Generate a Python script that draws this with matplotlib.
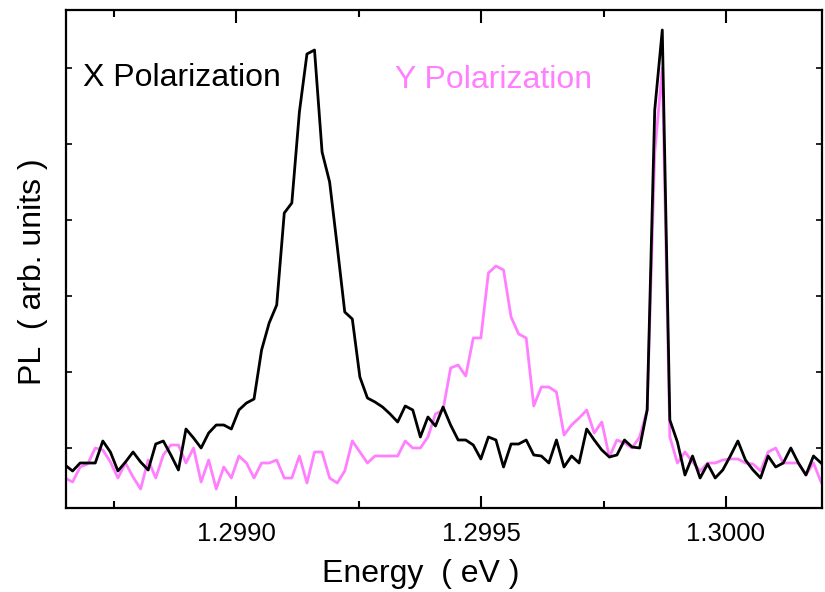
import numpy as np
import matplotlib
matplotlib.use("Agg")
import matplotlib.pyplot as plt
from matplotlib.ticker import MultipleLocator, NullFormatter

plt.rcParams['font.family'] = ['Liberation Sans', 'DejaVu Sans']

# energy sampling of the spectrometer (eV)
e_start = 1.298651
e_step = 0.00001543

# PL intensity (arb. units), X polarization
pl_x = [43, 37, 45, 45, 45, 67, 56, 37, 46, 56,
        46, 38, 64, 67, 53, 38, 79, 70, 60, 75,
        83, 83, 79, 98, 105, 109, 158, 185, 203, 295,
        305, 396, 454, 458, 356, 326, 262, 196, 189, 131,
        110, 106, 101, 94, 86, 102, 98, 71, 91, 82,
        101, 83, 68, 68, 63, 49, 71, 68, 41, 64,
        64, 68, 53, 52, 45, 68, 41, 52, 45, 79,
        68, 58, 51, 53, 68, 61, 60, 98, 398, 478,
        88, 66, 33, 52, 30, 44, 30, 38, 52, 67,
        48, 38, 30, 52, 41, 45, 60, 45, 33, 52,
        45]

# PL intensity (arb. units), Y polarization
pl_y = [30, 26, 41, 44, 60, 58, 46, 30, 45, 31,
        19, 48, 30, 53, 63, 63, 45, 60, 26, 48,
        19, 41, 30, 52, 45, 30, 45, 45, 48, 30,
        30, 52, 25, 56, 56, 30, 25, 37, 67, 56,
        45, 52, 52, 52, 52, 67, 60, 60, 71, 94,
        98, 140, 143, 132, 170, 170, 235, 242, 238, 191,
        174, 170, 102, 121, 121, 116, 73, 83, 90, 98,
        75, 86, 51, 68, 65, 60, 71, 98, 355, 440,
        71, 45, 56, 46, 37, 45, 45, 48, 49, 49,
        45, 44, 37, 56, 60, 45, 45, 45, 33, 45,
        26]

energy = e_start + e_step * np.arange(len(pl_x))

fig = plt.figure(figsize=(8.25, 5.92), dpi=100)
ax = fig.add_axes([0.08, 0.1419, 0.9164, 0.8412])

ax.plot(energy, pl_y, color='#ff7fff', lw=2)
ax.plot(energy, pl_x, color='black', lw=2)

ax.set_xlim(1.298653, 1.300196)
ax.set_ylim(0, 498)

ax.xaxis.set_major_locator(MultipleLocator(0.0005))
ax.xaxis.set_minor_locator(MultipleLocator(0.00025))
ax.xaxis.set_major_formatter(plt.FuncFormatter(lambda v, p: f"{v:.4f}"))
ax.set_yticks([60, 136, 212, 288, 364, 440])
ax.yaxis.set_major_formatter(NullFormatter())

ax.tick_params(axis='x', which='major', direction='in', length=9, width=1.5,
               top=True, labelsize=18.5, pad=10)
ax.tick_params(axis='x', which='minor', direction='in', length=5, width=1.5, top=True)
ax.tick_params(axis='y', which='major', direction='in', length=4, width=1.2, right=True)
for s in ax.spines.values():
    s.set_linewidth(1.6)

ax.text((83 - 66)/756, 1 - (78 - 10)/498, 'X Polarization', transform=ax.transAxes,
        fontsize=23, color='black', va='center', ha='left')
ax.text((395 - 66)/756, 1 - (80 - 10)/498, 'Y Polarization', transform=ax.transAxes,
        fontsize=23, color='#ff7fff', va='center', ha='left')

fig.text(421/825, 1 - 574/592, 'Energy  ( eV )', fontsize=23, ha='center', va='center')
fig.text(33/825, 1 - 272/592, 'PL  ( arb. units )', fontsize=23, ha='center', va='center',
         rotation=90)

fig.savefig('out.png', dpi=100)
